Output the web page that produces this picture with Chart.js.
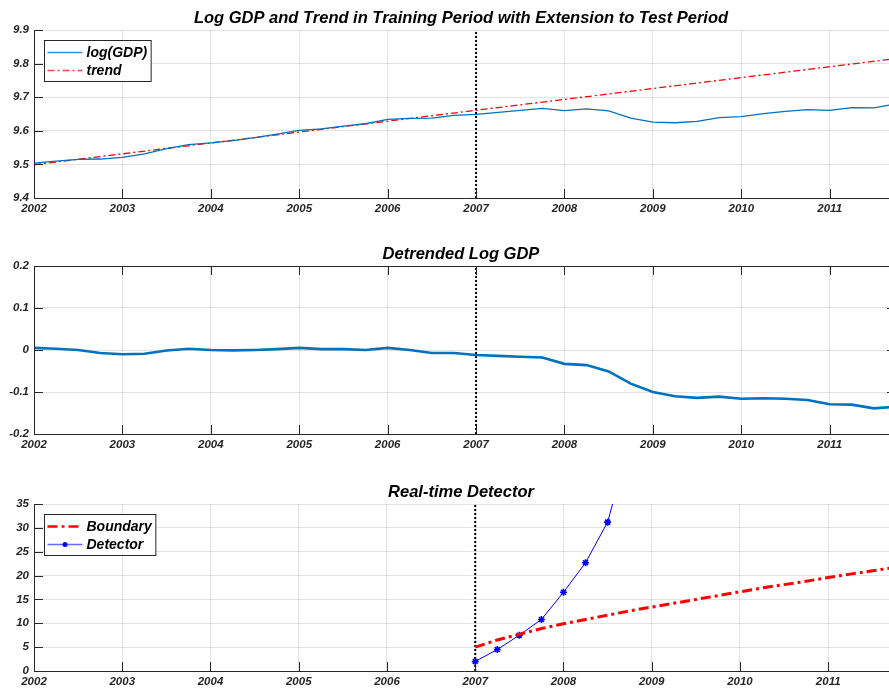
<!DOCTYPE html>
<html>
<head>
<meta charset="utf-8">
<script src="https://cdn.jsdelivr.net/npm/chart.js@4.4.1/dist/chart.umd.min.js"></script>
<style>
  html, body { margin: 0; padding: 0; background: #fff; overflow: hidden; }
  body { width: 889px; height: 695px; position: relative; }
  .panel { position: absolute; left: 0; width: 900px; }
  canvas { display: block; }
</style>
</head>
<body>
<div class="panel" style="top:0px;height:230px"><canvas id="gdpChart" width="900" height="230"></canvas></div>
<div class="panel" style="top:236px;height:230px"><canvas id="detrendChart" width="900" height="230"></canvas></div>
<div class="panel" style="top:474px;height:221px"><canvas id="detectorChart" width="900" height="221"></canvas></div>
<script>
// quarterly dates, 2002Q1 .. 2011Q4
const quarters = [
    2002, 2002.25, 2002.5, 2002.75, 2003, 2003.25, 2003.5, 2003.75,
    2004, 2004.25, 2004.5, 2004.75, 2005, 2005.25, 2005.5, 2005.75,
    2006, 2006.25, 2006.5, 2006.75, 2007, 2007.25, 2007.5, 2007.75,
    2008, 2008.25, 2008.5, 2008.75, 2009, 2009.25, 2009.5, 2009.75,
    2010, 2010.25, 2010.5, 2010.75, 2011, 2011.25, 2011.5, 2011.75
];
const logGdp = [
    9.504, 9.510, 9.515, 9.516, 9.521, 9.531, 9.547, 9.559,
    9.564, 9.571, 9.580, 9.590, 9.601, 9.606, 9.614, 9.621,
    9.634, 9.637, 9.638, 9.646, 9.649, 9.655, 9.661, 9.667,
    9.660, 9.665, 9.659, 9.638, 9.626, 9.624, 9.628, 9.639,
    9.642, 9.651, 9.658, 9.663, 9.661, 9.669, 9.668, 9.680
];
const trendDates = [2002, 2011.75];
const trendValues = [9.499, 9.815];
const detrended = [
    0.005, 0.003, 0.000, -0.007, -0.010, -0.009, -0.001, 0.003,
    0.000, -0.001, 0.000, 0.002, 0.005, 0.002, 0.002, 0.000,
    0.005, 0.000, -0.007, -0.007, -0.012, -0.014, -0.016, -0.018,
    -0.033, -0.036, -0.051, -0.080, -0.100, -0.110, -0.114, -0.111,
    -0.116, -0.115, -0.116, -0.119, -0.129, -0.130, -0.139, -0.135
];
// test period, 2007Q1 onwards
const testQuarters = [
    2007, 2007.25, 2007.5, 2007.75, 2008, 2008.25, 2008.5, 2008.75,
    2009, 2009.25, 2009.5, 2009.75, 2010, 2010.25, 2010.5, 2010.75,
    2011, 2011.25, 2011.5, 2011.75
];
const boundary = [
    5.0, 6.5, 7.7, 8.9, 9.9, 10.8, 11.7, 12.6,
    13.4, 14.2, 15.0, 15.8, 16.6, 17.4, 18.1, 18.8,
    19.6, 20.3, 21.0, 21.7
];
const detector = [2.0, 4.5, 7.5, 10.8, 16.5, 22.7, 31.2, 48];

const splitYear = 2007;
const yearTicks = [2002, 2003, 2004, 2005, 2006, 2007, 2008, 2009, 2010, 2011];
const gdpTicks = [9.4, 9.5, 9.6, 9.7, 9.8, 9.9];
const gdpTickLabels = ['9.4', '9.5', '9.6', '9.7', '9.8', '9.9'];
const detrendTicks = [-0.2, -0.1, 0, 0.1, 0.2];
const detrendTickLabels = ['-0.2', '-0.1', '0', '0.1', '0.2'];
const detectorTicks = [0, 5, 10, 15, 20, 25, 30, 35];
const detectorTickLabels = ['0', '5', '10', '15', '20', '25', '30', '35'];

const FONT = '"Liberation Sans", Arial, Helvetica, sans-serif';
const AXIS = '#262626';
const GRID = 'rgba(38,38,38,0.13)';

function pts(xs, ys) {
    return ys.map((v, i) => ({ x: xs[i], y: v }));
}

// axes box, inward ticks and title drawn the way matlab does it
const matlabFrame = {
    id: 'matlabFrame',
    afterDatasetsDraw(chart, args, opts) {
        const { ctx, chartArea: a, scales: { x, y } } = chart;
        const len = 9;
        ctx.save();
        ctx.strokeStyle = AXIS;
        ctx.lineWidth = 1;
        ctx.beginPath();
        ctx.moveTo(a.left + 0.5, a.top);
        ctx.lineTo(a.left + 0.5, a.bottom + 0.5);
        ctx.lineTo(a.right, a.bottom + 0.5);
        if (opts.box) {
            ctx.moveTo(a.left, a.top + 0.5);
            ctx.lineTo(a.right - 0.5, a.top + 0.5);
            ctx.lineTo(a.right - 0.5, a.bottom);
        }
        x.ticks.forEach(t => {
            const px = Math.round(x.getPixelForValue(t.value)) + 0.5;
            ctx.moveTo(px, a.bottom);
            ctx.lineTo(px, a.bottom - len);
            if (opts.box) {
                ctx.moveTo(px, a.top);
                ctx.lineTo(px, a.top + len);
            }
        });
        y.ticks.forEach(t => {
            const py = Math.round(y.getPixelForValue(t.value)) + 0.5;
            ctx.moveTo(a.left, py);
            ctx.lineTo(a.left + len, py);
            if (opts.box) {
                ctx.moveTo(a.right, py);
                ctx.lineTo(a.right - len, py);
            }
        });
        ctx.stroke();

        ctx.fillStyle = '#000';
        ctx.font = 'bold italic 16.5px ' + FONT;
        ctx.textAlign = 'center';
        ctx.textBaseline = 'alphabetic';
        ctx.fillText(opts.title, 461, a.top - 7);
        ctx.restore();
    }
};

// legend box inside the upper left corner
const cornerLegend = {
    id: 'cornerLegend',
    afterDraw(chart, args, opts) {
        if (!opts.show) return;
        const { ctx, chartArea: a } = chart;
        const items = chart.data.datasets.filter(d => d.label);
        ctx.save();
        ctx.font = 'bold italic 14px ' + FONT;
        const textW = Math.max(...items.map(d => ctx.measureText(d.label).width));
        const left = a.left + 10.5, top = a.top + 10.5;
        const w = 42 + textW + 4, h = items.length * 18 + 5;
        ctx.fillStyle = '#fff';
        ctx.fillRect(left, top, w, h);
        ctx.strokeStyle = AXIS;
        ctx.lineWidth = 1;
        ctx.strokeRect(left, top, w, h);
        items.forEach((d, i) => {
            const cy = top + 12 + i * 18;
            ctx.strokeStyle = d.legendColor || d.borderColor;
            ctx.lineWidth = d.legendWidth || d.borderWidth;
            ctx.setLineDash(d.borderDash || []);
            ctx.beginPath();
            ctx.moveTo(left + 3, cy);
            ctx.lineTo(left + 38, cy);
            ctx.stroke();
            ctx.setLineDash([]);
            if (d.legendMarker) {
                ctx.fillStyle = d.borderColor;
                ctx.beginPath();
                ctx.arc(left + 20.5, cy, 2.5, 0, Math.PI * 2);
                ctx.fill();
            }
            ctx.fillStyle = '#000';
            ctx.textAlign = 'left';
            ctx.textBaseline = 'middle';
            ctx.fillText(d.label, left + 42, cy + 0.5);
        });
        ctx.restore();
    }
};

function splitLine(yMin, yMax) {
    return {
        data: [{ x: splitYear, y: yMin }, { x: splitYear, y: yMax }],
        borderColor: '#000',
        borderWidth: 2,
        borderDash: [2, 2],
        pointRadius: 0
    };
}

function makeOptions(cfg) {
    return {
        responsive: false,
        animation: false,
        devicePixelRatio: 1,
        layout: { padding: { top: 30, right: 4, bottom: cfg.padBottom, left: 0 } },
        plugins: {
            legend: { display: false },
            tooltip: { enabled: false },
            matlabFrame: { title: cfg.title, box: cfg.box },
            cornerLegend: { show: cfg.legend }
        },
        scales: {
            x: {
                type: 'linear',
                min: 2002,
                max: 2011.75,
                afterBuildTicks: s => { s.ticks = yearTicks.map(v => ({ value: v })); },
                afterFit: s => { s.height = 24; },
                ticks: {
                    autoSkip: false,
                    maxRotation: 0,
                    padding: 4,
                    color: AXIS,
                    font: { family: FONT, size: 11.5, style: 'italic', weight: 'bold' },
                    callback: (v, i) => String(yearTicks[i])
                },
                grid: { color: GRID, drawTicks: false },
                border: { display: false }
            },
            y: {
                min: cfg.yTicks[0],
                max: cfg.yTicks[cfg.yTicks.length - 1],
                afterBuildTicks: s => { s.ticks = cfg.yTicks.map(v => ({ value: v })); },
                afterFit: s => { s.width = 34; },
                ticks: {
                    padding: 5,
                    color: AXIS,
                    font: { family: FONT, size: 11.5, style: 'italic', weight: 'bold' },
                    callback: (v, i) => cfg.yLabels[i]
                },
                grid: { color: GRID, drawTicks: false },
                border: { display: false }
            }
        }
    };
}

Chart.defaults.elements.line.tension = 0;

new Chart(document.getElementById('gdpChart'), {
    type: 'line',
    data: {
        datasets: [
            {
                label: 'log(GDP)',
                data: pts(quarters, logGdp),
                borderColor: '#0072BD',
                borderWidth: 1.3,
                legendColor: '#3a8fd0',
                pointRadius: 0
            },
            {
                label: 'trend',
                data: pts(trendDates, trendValues),
                borderColor: '#FF0000',
                borderWidth: 1.3,
                borderDash: [7, 3, 2, 3],
                legendColor: '#ff4040',
                pointRadius: 0
            },
            splitLine(9.4, 9.9)
        ]
    },
    options: makeOptions({
        title: 'Log GDP and Trend in Training Period with Extension to Test Period',
        yTicks: gdpTicks, yLabels: gdpTickLabels, padBottom: 8, box: false, legend: true
    }),
    plugins: [matlabFrame, cornerLegend]
});

new Chart(document.getElementById('detrendChart'), {
    type: 'line',
    data: {
        datasets: [
            {
                data: pts(quarters, detrended),
                borderColor: '#0072BD',
                borderWidth: 2.6,
                pointRadius: 0
            },
            splitLine(-0.2, 0.2)
        ]
    },
    options: makeOptions({
        title: 'Detrended Log GDP',
        yTicks: detrendTicks, yLabels: detrendTickLabels, padBottom: 8, box: true, legend: false
    }),
    plugins: [matlabFrame, cornerLegend]
});

new Chart(document.getElementById('detectorChart'), {
    type: 'line',
    data: {
        datasets: [
            {
                label: 'Boundary',
                data: pts(testQuarters, boundary),
                borderColor: '#FF0000',
                borderWidth: 3,
                borderDash: [10, 4, 3, 4],
                legendWidth: 2.5,
                pointRadius: 0
            },
            {
                label: 'Detector',
                data: pts(testQuarters, detector),
                borderColor: '#0000FF',
                backgroundColor: '#0000FF',
                borderWidth: 1,
                legendMarker: true,
                legendColor: '#6a6aff',
                legendWidth: 1.5,
                pointStyle: 'star',
                pointRadius: 3.5,
                pointBorderWidth: 1.6,
                pointBorderColor: '#0000FF'
            },
            splitLine(0, 35)
        ]
    },
    options: makeOptions({
        title: 'Real-time Detector',
        yTicks: detectorTicks, yLabels: detectorTickLabels, padBottom: 0, box: false, legend: true
    }),
    plugins: [matlabFrame, cornerLegend]
});
</script>
</body>
</html>
